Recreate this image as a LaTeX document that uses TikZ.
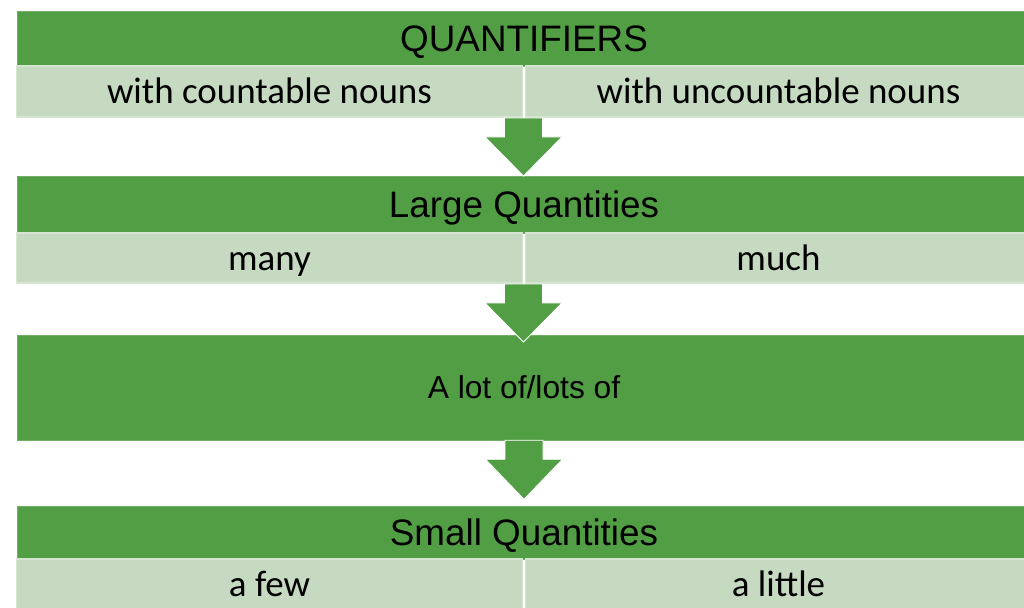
\documentclass[tikz,border=0pt]{standalone}
\usepackage{fontspec}
\setmainfont{Liberation Sans}
\newfontfamily\rowfont{Carlito}
\usetikzlibrary{positioning,calc}

\definecolor{qgreen}{RGB}{82,158,69}
\definecolor{qedge}{RGB}{112,176,100}
\definecolor{qlight}{RGB}{198,217,193}
\definecolor{qlightedge}{RGB}{214,228,210}

% block arrow pointing down, from #1 to #2
\newcommand{\blockdown}[2]{%
  \fill[qgreen, draw=white, line width=0.6pt]
    ($(#1)+(-0.475,0)$) -- ($(#1)+(-0.475,-0.475)$) -- ($(#1)+(-0.9625,-0.475)$)
    -- (#2) -- ($(#1)+(0.9625,-0.475)$) -- ($(#1)+(0.475,-0.475)$)
    -- ($(#1)+(0.475,0)$) -- cycle;}

\begin{document}
\begin{tikzpicture}[
  header/.style={fill=qgreen, draw=qedge, line width=0.4pt, inner sep=0pt,
    minimum width=25.35cm, text height=18.8pt, text depth=0pt,
    font=\fontsize{26.2}{30}\selectfont},
  cell/.style={fill=qlight, draw=qlightedge, line width=1.4pt, inner sep=0pt,
    minimum width=12.65cm, text height=18.5pt, text depth=1pt,
    font=\rowfont\fontsize{26.3}{30}\selectfont}]

  \useasboundingbox (0,0) rectangle (25.6,15.175);
  \clip (0,0) rectangle (25.6,15.175);

  % green headers
  \node[header, minimum height=1.375cm] (hdr1) at (13.1,14.2125) {QUANTIFIERS};
  \node[header, minimum height=1.425cm] (hdr2) at (13.1,10.0625) {Large Quantities};
  \node[header, minimum height=2.625cm, text height=16.2pt, font=\fontsize{22.6}{26}\selectfont]
    (lot) at (13.1,5.4875) {A lot of/lots of};
  \node[header, minimum height=1.325cm] (hdr3) at (13.1,1.8625) {Small Quantities};

  % light rows, two cells each
  \foreach \i/\y/\h/\lft/\rgt in {1/12.8875/1.275/with countable nouns/with uncountable nouns,
                                2/8.725/1.25/many/much,
                                3/0.575/1.25/a few/a little} {
    \node[cell, minimum height=\h cm] (lcell\i) at (6.7375,\y) {\lft};
    \node[cell, minimum height=\h cm] (rcell\i) at (19.4625,\y) {\rgt};
  }

  % arrows between the blocks
  \coordinate (tip1) at ($(lcell1.south east)+(0,-1.45)$);
  \coordinate (tip2) at ($(lcell2.south east)+(0,-1.45)$);
  \coordinate (tip3) at ($(lot.south)+(0,-1.475)$);
  \blockdown{lcell1.south east}{tip1}
  \blockdown{lcell2.south east}{tip2}
  \blockdown{lot.south}{tip3}
\end{tikzpicture}
\end{document}
